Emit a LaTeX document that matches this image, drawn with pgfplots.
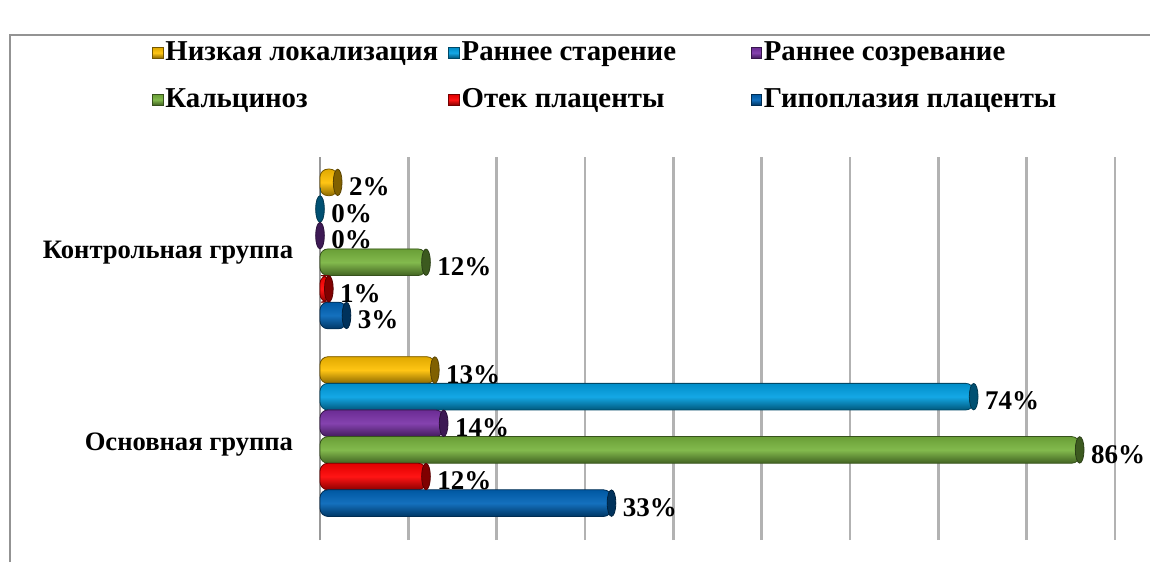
\documentclass[border=0pt]{standalone}
\usepackage{pgfplots}
\pgfplotsset{compat=1.18}
\usepackage{fontspec}
\setmainfont{Liberation Serif}
\definecolor{cYel}{HTML}{FFC000}
\definecolor{cLbl}{HTML}{00A0E3}
\definecolor{cPur}{HTML}{7A32A8}
\definecolor{cGrn}{HTML}{78B43E}
\definecolor{cRed}{HTML}{FF0000}
\definecolor{cDbl}{HTML}{0064B8}
\pgfplotsset{
  cyl/.style={
    fill=#1, draw=#1!45!black, line width=0.4pt,
    top color=#1!88!black, bottom color=#1!55!black, middle color=#1!92!white,
    rounded corners=4pt,
    mark=*, mark size=6.6pt,
    mark options={xscale=0.33, fill=#1!50!black, draw=#1!35!black, line width=0.4pt, rounded corners=0pt, top color=#1!50!black, bottom color=#1!50!black},
  },
}
\begin{document}
\begin{tikzpicture}[x=1pt,y=1pt]
\path[use as bounding box] (0,0) rectangle (575,281);
\draw[gray!85, line width=1.1pt] (5,0) -- (5,263.5) -- (576,263.5);
\begin{axis}[
  at={(160pt,11pt)}, anchor=south west,
  scale only axis, width=397.5pt, height=191.5pt,
  xmin=0, xmax=90, ymin=0, ymax=2,
  clip=false,
  xbar, bar width=0.139, bar shift=0pt,
  /pgf/number format/assume math mode=true,
  axis lines*=left,
  x axis line style={draw=none},
  y axis line style={gray!80, line width=1pt},
  xtick={0,10,...,90}, xticklabels={},
  xtick style={draw=none},
  xmajorgrids,
  major grid style={gray!60, line width=1.2pt},
  ytick={0.5,1.5},
  yticklabels={Основная группа, Контрольная группа},
  ytick style={draw=none},
  yticklabel style={font=\bfseries\fontsize{13.3}{15}\selectfont, anchor=east, inner sep=0pt, xshift=-9pt},
  extra y ticks={0,1,2},
  extra y tick labels={},
  extra y tick style={grid=none, tick align=outside, major tick length=4pt, tick style={draw=gray!80, line width=0.8pt}},
  nodes near coords={\pgfmathprintnumber{\pgfplotspointmeta}\%},
  every node near coord/.append style={font=\bfseries\fontsize{13.5}{14}\selectfont, anchor=west, inner sep=0pt, xshift=5.5pt, yshift=-2.2pt, text=black},
  legend columns=3,
  legend cell align=left,
  legend style={draw=none, fill=none, at={(axis description cs:-0.2115,1.312)}, anchor=north west,
    font=\bfseries\fontsize{14.4}{16}\selectfont, column sep=1.5pt, row sep=8.5pt, inner sep=0pt},
  legend image code/.code={\draw[#1, rounded corners=0pt, mark=none] (0pt,-2.6pt) rectangle (5.2pt,2.6pt);},
]
% main group (first) and control group (forget plot) for each series
\addplot[cyl=cYel] coordinates {(13,0.8875)};
\addlegendentry{\makebox[135.5pt][l]{\hspace*{-2.5pt}Низкая локализация}}
\addplot[cyl=cYel, forget plot] coordinates {(2,1.8675)};
\addplot[cyl=cLbl] coordinates {(74,0.7485)};
\addlegendentry{\makebox[138.5pt][l]{\hspace*{-2.5pt}Раннее старение}}
\addplot[cyl=cLbl, forget plot] coordinates {(0,1.7285)};
\addplot[cyl=cPur] coordinates {(14,0.6095)};
\addlegendentry{\hspace*{-2.5pt}Раннее созревание}
\addplot[cyl=cPur, forget plot] coordinates {(0,1.5895)};
\addplot[cyl=cGrn] coordinates {(86,0.4705)};
\addlegendentry{\makebox[135.5pt][l]{\hspace*{-2.5pt}Кальциноз}}
\addplot[cyl=cGrn, forget plot] coordinates {(12,1.4505)};
\addplot[cyl=cRed] coordinates {(12,0.3315)};
\addlegendentry{\makebox[138.5pt][l]{\hspace*{-2.5pt}Отек плаценты}}
\addplot[cyl=cRed, forget plot] coordinates {(1,1.3115)};
\addplot[cyl=cDbl] coordinates {(33,0.1925)};
\addlegendentry{\hspace*{-2.5pt}Гипоплазия плаценты}
\addplot[cyl=cDbl, forget plot] coordinates {(3,1.1725)};
\end{axis}
\end{tikzpicture}
\end{document}
